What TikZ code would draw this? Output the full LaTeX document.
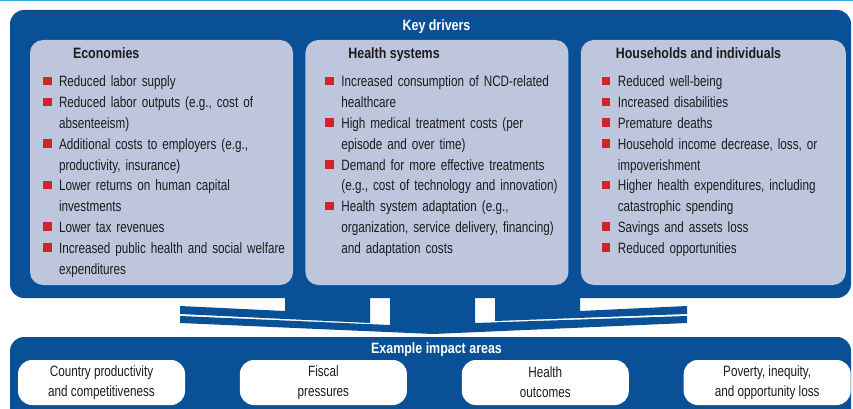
\documentclass[tikz,border=0pt]{standalone}
\usepackage{fontspec}
\setmainfont{Liberation Sans}[FakeStretch=0.78, BoldFeatures={FakeStretch=0.83}]
\usetikzlibrary{positioning}

\definecolor{wbblue}{RGB}{10,80,150}
\definecolor{panelgray}{RGB}{190,198,222}
\definecolor{bulletred}{RGB}{210,35,42}
\definecolor{textdark}{RGB}{30,27,28}
\definecolor{rulecyan}{RGB}{41,171,226}

\newcommand{\bul}{\makebox[16pt][l]{\textcolor{bulletred}{\rule[1.5pt]{8.5pt}{8.5pt}}}}
\newcommand{\ind}{\hspace*{16pt}}

\begin{document}
\begin{tikzpicture}[
    node distance=12pt,
    frame/.style={rectangle, rounded corners=14pt, fill=wbblue, inner sep=0pt},
    panel/.style={rectangle, rounded corners=13pt, fill=panelgray, minimum height=245pt, inner sep=0pt},
    head/.style={inner sep=0pt, text=textdark, font=\fontsize{15pt}{18pt}\selectfont\bfseries},
    title/.style={inner sep=0pt, text=white, font=\fontsize{15pt}{18pt}\selectfont\bfseries},
    items/.style={inner sep=0pt, text=textdark, text width=250pt, align=left,
                  font=\fontsize{15pt}{20.8pt}\selectfont},
    impact/.style={rectangle, rounded corners=14pt, fill=white, minimum width=167pt,
                   minimum height=45pt, inner sep=0pt, align=center, text=textdark,
                   font=\fontsize{15pt}{20pt}\selectfont},
    band/.style={fill=wbblue}
]
\useasboundingbox (0,0) rectangle (853pt,408pt);
\draw[rulecyan, line width=1.5pt] (0,407.4pt) -- (853pt,407.4pt);

% the two blue frames
\node[frame, minimum width=841pt, minimum height=288pt] (drivers) at (430.5pt,254pt) {};
\node[frame, minimum width=841pt, minimum height=100pt] (areas) at (430.5pt,21pt) {};
\node[title, anchor=base] at ([xshift=6pt, yshift=-21pt]drivers.north) {Key drivers};
\node[title, anchor=base] at ([xshift=6pt, yshift=-17pt]areas.north) {Example impact areas};

% driver panels
\node[panel, minimum width=263pt] (eco) at (161.5pt,245.5pt) {};
\node[panel, minimum width=263pt, right=of eco] (hs) {};
\node[panel, minimum width=265pt, right=of hs] (hh) {};

\node[head, below right=8pt and 43pt of eco.north west] (ecohead) {Economies};
\node[head, below right=8pt and 43pt of hs.north west] (hshead) {Health systems};
\node[head, below right=8pt and 35pt of hh.north west] (hhhead) {Households and individuals};

\node[items, below right=36pt and 13pt of eco.north west] (ecoitems) {%
\bul Reduced labor supply\\
\bul Reduced labor outputs (e.g., cost of\\
\ind absenteeism)\\
\bul Additional costs to employers (e.g.,\\
\ind productivity, insurance)\\
\bul Lower returns on human capital\\
\ind investments\\
\bul Lower tax revenues\\
\bul Increased public health and social welfare\\
\ind expenditures};

\node[items, below right=36pt and 20pt of hs.north west] (hsitems) {%
\bul Increased consumption of NCD-related\\
\ind healthcare\\
\bul High medical treatment costs (per\\
\ind episode and over time)\\
\bul Demand for more effective treatments\\
\ind (e.g., cost of technology and innovation)\\
\bul Health system adaptation (e.g.,\\
\ind organization, service delivery, financing)\\
\ind and adaptation costs};

\node[items, below right=36pt and 21pt of hh.north west] (hhitems) {%
\bul Reduced well-being\\
\bul Increased disabilities\\
\bul Premature deaths\\
\bul Household income decrease, loss, or\\
\ind impoverishment\\
\bul Higher health expenditures, including\\
\ind catastrophic spending\\
\bul Savings and assets loss\\
\bul Reduced opportunities};

% converging bands
\fill[band] (180pt,102pt) -- (285pt,97pt) -- (285pt,111pt) -- (370pt,111pt)
  -- (370pt,85pt) -- (180pt,94pt) -- cycle;
\fill[band] (390pt,111pt) -- (475pt,111pt) -- (475pt,85pt) -- (687pt,92pt)
  -- (687pt,85pt) -- (433pt,74pt) -- (180pt,85pt) -- (180pt,92pt) -- (390pt,83pt) -- cycle;
\fill[band] (495pt,111pt) -- (580pt,111pt) -- (580pt,97pt) -- (687pt,102pt)
  -- (687pt,94pt) -- (495pt,87pt) -- cycle;

% impact areas
\node[impact] (prod) at (101.5pt,25.5pt) {Country productivity\\and competitiveness};
\node[impact, right=54.5pt of prod] (fiscal) {Fiscal\\pressures};
\node[impact, right=54.5pt of fiscal] (health) {Health\\outcomes};
\node[impact, right=54.5pt of health] (poverty) {Poverty, inequity,\\and opportunity loss};
\end{tikzpicture}
\end{document}
